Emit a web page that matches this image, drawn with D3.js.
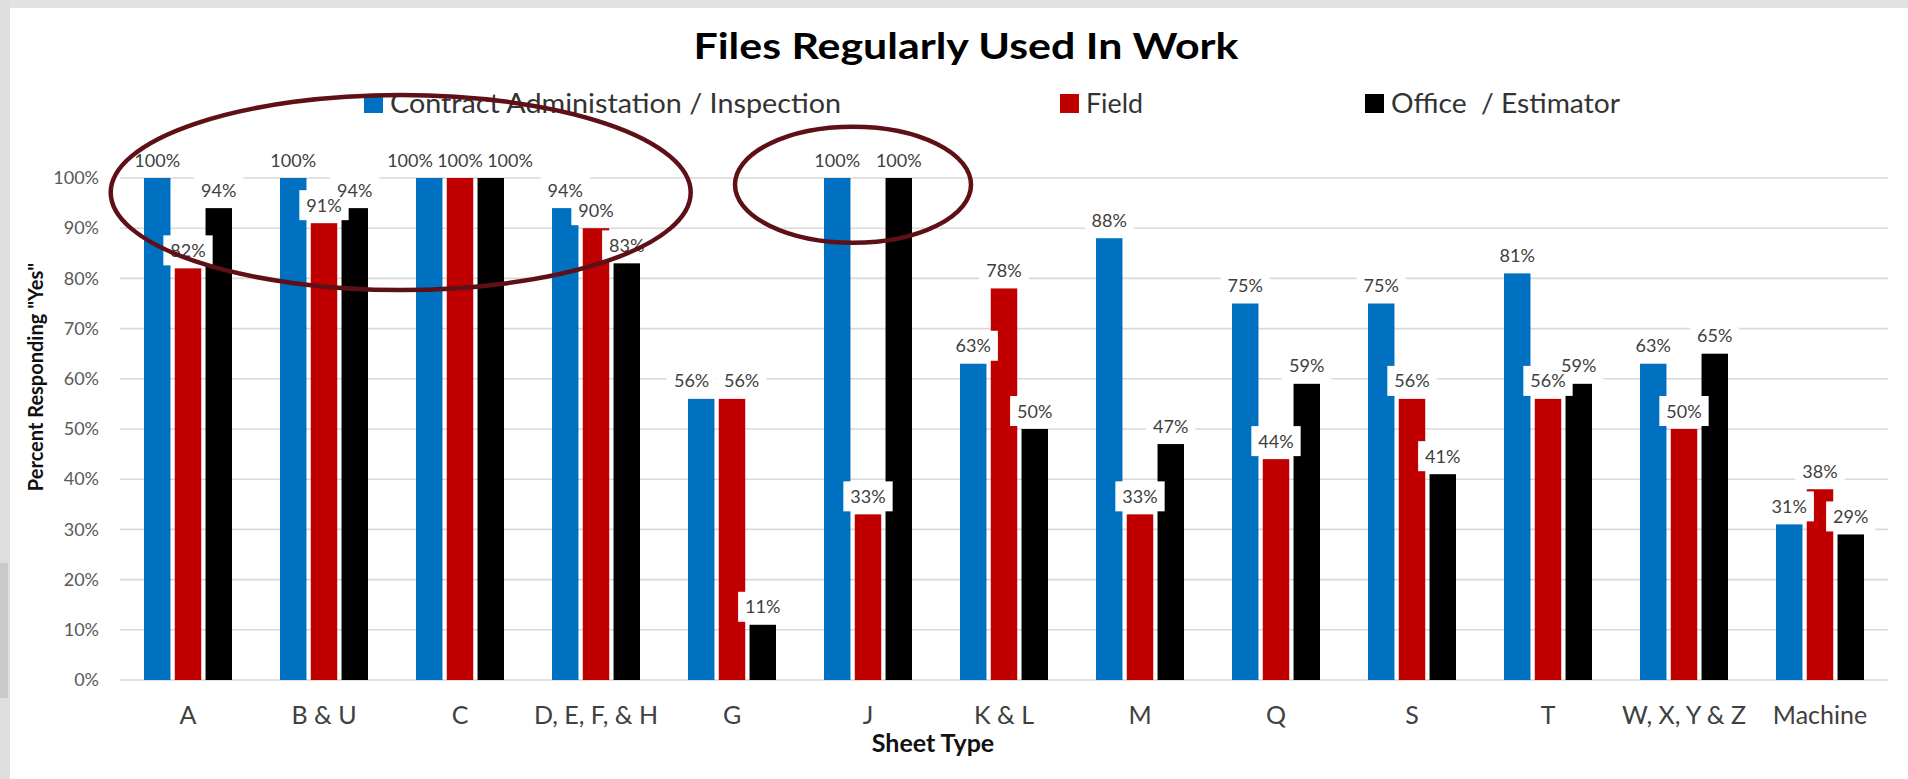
<!DOCTYPE html>
<html><head><meta charset="utf-8">
<script src="https://cdn.jsdelivr.net/npm/d3@7"></script>
<style>body{margin:0;background:#fff;} svg{display:block;}</style>
</head><body>
<svg id="chart" width="1908" height="779"></svg>
<script>
// ---------- data ----------
const categories = ["A","B & U","C","D, E, F, & H","G","J","K & L","M","Q","S","T","W, X, Y & Z","Machine"];
const seriesNames = ["Contract Administation / Inspection","Field","Office  / Estimator"];
const contractValues = [100,100,100,94,56,100,63,88,75,75,81,63,31];
const fieldValues    = [82,91,100,90,56,33,78,33,44,56,56,50,38];
const officeValues   = [94,94,100,83,11,100,50,47,59,41,59,65,29];
const seriesColors = ["#0070C0","#C00000","#000000"];
const yTickValues = [0,10,20,30,40,50,60,70,80,90,100];
const titleText = "Files Regularly Used In Work";
const yAxisTitle = 'Percent Responding "Yes"';
const xAxisTitle = "Sheet Type";

const seriesValues = [contractValues, fieldValues, officeValues];
const FONT = "Lato, 'Open Sans', sans-serif";

const svg = d3.select("#chart");

// background frame
svg.append("rect").attr("x",0).attr("y",0).attr("width",1908).attr("height",779).attr("fill","#ffffff");
svg.append("rect").attr("x",0).attr("y",0).attr("width",1908).attr("height",8).attr("fill","#e2e2e2");
svg.append("rect").attr("x",0).attr("y",0).attr("width",10).attr("height",779).attr("fill","#dedede");
svg.append("rect").attr("x",0).attr("y",563).attr("width",8).attr("height",135).attr("fill","#c9c9c9");

// scales
const x0 = d3.scaleBand().domain(categories).range([120,1888]).paddingInner(0.353).paddingOuter(0.1765);
const x1 = d3.scaleBand().domain(d3.range(3)).range([0,x0.bandwidth()]).paddingInner(0.14).paddingOuter(0);
const y = d3.scaleLinear().domain([0,100]).range([680,178]);

// gridlines
svg.append("g").selectAll("line").data(yTickValues).join("line")
  .attr("x1",120).attr("x2",1888)
  .attr("y1",d=>y(d)).attr("y2",d=>y(d))
  .attr("stroke","#d9d9d9").attr("stroke-width",1.6);

// y axis tick labels via d3 axis
const yAxis = d3.axisLeft(y).tickValues(yTickValues).tickFormat(d=>d+"%").tickSize(0).tickPadding(0);
const yg = svg.append("g").attr("transform","translate(99,0)").call(yAxis);
yg.select(".domain").remove();
yg.selectAll("text").attr("font-family",FONT).attr("font-size",18).attr("fill","#595959");

// bars
const barData = [];
categories.forEach((c,i)=>{
  seriesValues.forEach((vals,s)=>{
    barData.push({cat:c, s:s, v:vals[i]});
  });
});
svg.append("g").selectAll("rect").data(barData).join("rect")
  .attr("x",d=>x0(d.cat)+x1(d.s))
  .attr("width",x1.bandwidth())
  .attr("y",d=>y(d.v))
  .attr("height",d=>y(0)-y(d.v))
  .attr("fill",d=>seriesColors[d.s]);

// data label positions (spread labels sitting at the same height)
const labelSep = 50;
const labels = barData.map(d=>({...d, cx:x0(d.cat)+x1(d.s)+x1.bandwidth()/2, cy:y(d.v)-18}));
categories.forEach(c=>{
  const grp = labels.filter(l=>l.cat===c).sort((a,b)=>a.cx-b.cx);
  let clusters = [[grp[0]]];
  for(let k=1;k<grp.length;k++){
    const last = clusters[clusters.length-1];
    const prev = last[last.length-1];
    if(Math.abs(grp[k].cy-prev.cy)<4 && grp[k].cx-prev.cx<labelSep) last.push(grp[k]);
    else clusters.push([grp[k]]);
  }
  clusters.forEach(cl=>{
    if(cl.length<2) return;
    const m = d3.mean(cl,l=>l.cx);
    cl.forEach((l,j)=>{ l.cx = m + (j-(cl.length-1)/2)*labelSep; });
  });
});

const boxG = svg.append("g");
const txtG = svg.append("g");
const texts = txtG.selectAll("text").data(labels).join("text")
  .attr("x",d=>d.cx).attr("y",d=>d.cy+6.5)
  .attr("text-anchor","middle")
  .attr("font-family",FONT).attr("font-size",18).attr("fill","#404040")
  .text(d=>d.v+"%");
texts.each(function(d){ d.w = this.getComputedTextLength(); });
boxG.selectAll("rect").data(labels).join("rect")
  .attr("x",d=>d.cx-d.w/2-7).attr("width",d=>d.w+14)
  .attr("y",d=>d.cy-15).attr("height",30)
  .attr("fill","#ffffff");

// x axis labels
const xAxis = d3.axisBottom(x0).tickSize(0).tickPadding(0);
const xg = svg.append("g").attr("transform","translate(0,724)").call(xAxis);
xg.select(".domain").remove();
xg.selectAll("text").attr("dy",0).attr("font-family",FONT).attr("font-size",25).attr("fill","#404040");

// axis titles
svg.append("text").attr("x",933).attr("y",752).attr("text-anchor","middle")
  .attr("font-family",FONT).attr("font-weight","bold").attr("font-size",25).attr("fill","#111")
  .text(xAxisTitle);
svg.append("text").attr("transform","translate(43,377) rotate(-90)").attr("text-anchor","middle")
  .attr("font-family",FONT).attr("font-weight","bold").attr("font-size",20).attr("fill","#111")
  .text(yAxisTitle);

// title
svg.append("text").attr("x",966).attr("y",59).attr("text-anchor","middle")
  .attr("font-family",FONT).attr("font-weight","bold").attr("font-size",37).attr("fill","#000")
  .attr("textLength",545).attr("lengthAdjust","spacingAndGlyphs")
  .text(titleText);

// legend
const legendX = [364,1060,1365];
const legendW = [451,57,229];
const lg = svg.append("g").selectAll("g").data(seriesNames).join("g")
  .attr("transform",(d,i)=>`translate(${legendX[i]},94)`);
lg.append("rect").attr("width",19).attr("height",19).attr("fill",(d,i)=>seriesColors[i]);
lg.append("text").attr("x",26).attr("y",19).style("white-space","pre")
  .attr("font-family",FONT).attr("font-size",27).attr("fill","#333")
  .attr("textLength",(d,i)=>legendW[i]).attr("lengthAdjust","spacingAndGlyphs")
  .text(d=>d);

// annotation ellipses
svg.append("ellipse").attr("cx",400.7).attr("cy",192.5).attr("rx",290).attr("ry",97.5)
  .attr("fill","none").attr("stroke","#5e1016").attr("stroke-width",4.5);
svg.append("ellipse").attr("cx",853).attr("cy",184.7).attr("rx",118).attr("ry",58)
  .attr("fill","none").attr("stroke","#5e1016").attr("stroke-width",4.5);
</script>
</body></html>
